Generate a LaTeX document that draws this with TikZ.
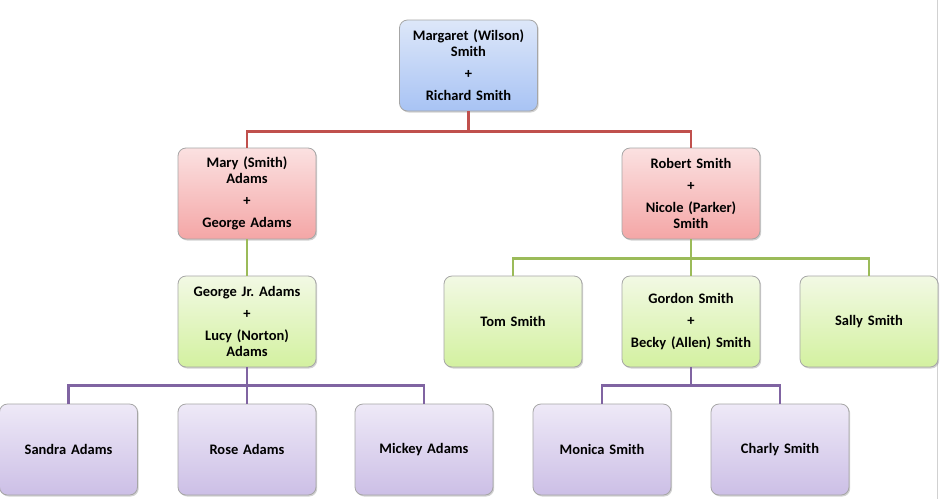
\documentclass[tikz,border=0pt]{standalone}
\usepackage{fontspec}
\setmainfont{Carlito}
\frenchspacing
\usetikzlibrary{shadows}
\definecolor{redline}{HTML}{C0504D}
\definecolor{greenline}{HTML}{9BBB59}
\definecolor{purpleline}{HTML}{8064A2}
\definecolor{blueT}{HTML}{DDE7F9}
\definecolor{blueB}{HTML}{A8C3F4}
\definecolor{redT}{HTML}{FBE1E1}
\definecolor{redB}{HTML}{F4A6A6}
\definecolor{greenT}{HTML}{F2F9E4}
\definecolor{greenB}{HTML}{D3F1A0}
\definecolor{purpT}{HTML}{EEE9F7}
\definecolor{purpB}{HTML}{CCBFE6}
\definecolor{boxborder}{HTML}{A6A6A6}
\tikzset{
  person/.style={draw=boxborder, line width=0.8pt, rounded corners=8pt,
    minimum width=138pt, minimum height=91pt, inner sep=2pt,
    text width=134pt, align=center,
    font=\bfseries\fontsize{14.5}{16}\selectfont,
    drop shadow={shadow xshift=1.2pt, shadow yshift=-1.5pt, opacity=0.35}},
  bluebox/.style={person, top color=blueT, bottom color=blueB},
  redbox/.style={person, top color=redT, bottom color=redB},
  greenbox/.style={person, top color=greenT, bottom color=greenB},
  purpbox/.style={person, top color=purpT, bottom color=purpB},
  conn/.style={line width=2.4pt},
}
\begin{document}
\begin{tikzpicture}[x=1pt,y=-1pt]
\useasboundingbox (0,0) rectangle (940,499);
\fill[white] (0,0) rectangle (940,499);
\draw[black!18, line width=0.8pt] (937.5,0) -- (937.5,499);

\node[bluebox] (top) at (468.5,65.5) {Margaret (Wilson)\\ Smith\\[6pt] +\\[6pt] Richard Smith};
\node[redbox] (mary) at (247,193.5) {Mary (Smith)\\ Adams\\[6pt] +\\[6pt] George Adams};
\node[redbox] (robert) at (691,193.5) {Robert Smith\\[6pt] +\\[6pt] Nicole (Parker)\\ Smith};
\node[greenbox] (george) at (247,321.5) {George Jr. Adams\\[6pt] +\\[6pt] Lucy (Norton)\\ Adams};
\node[greenbox] (tom) at (513,321.5) {Tom Smith};
\node[greenbox] (gordon) at (691,321.5) {Gordon Smith\\[6pt] +\\[6pt] Becky (Allen) Smith};
\node[greenbox] (sally) at (869,321.5) {Sally Smith};
\node[purpbox] (sandra) at (68.5,449.5) {Sandra Adams};
\node[purpbox] (rose) at (247,449.5) {Rose Adams};
\node[purpbox] (mickey) at (424,449.5) {Mickey Adams};
\node[purpbox] (monica) at (602,449.5) {Monica Smith};
\node[purpbox] (charly) at (780,449.5) {Charly Smith};

\draw[conn, redline] (top.south) -- ++(0,20) coordinate (j1);
\draw[conn, redline] (j1) -| (mary.north);
\draw[conn, redline] (j1) -| (robert.north);

\draw[conn, greenline] (mary.south) -- (george.north);
\draw[conn, greenline] (robert.south) -- ++(0,19) coordinate (j2);
\draw[conn, greenline] (j2) -| (tom.north);
\draw[conn, greenline] (j2) -- (gordon.north);
\draw[conn, greenline] (j2) -| (sally.north);

\draw[conn, purpleline] (george.south) -- ++(0,18) coordinate (j3);
\draw[conn, purpleline] (j3) -| (sandra.north);
\draw[conn, purpleline] (j3) -- (rose.north);
\draw[conn, purpleline] (j3) -| (mickey.north);

\draw[conn, purpleline] (gordon.south) -- ++(0,18) coordinate (j4);
\draw[conn, purpleline] (j4) -| (monica.north);
\draw[conn, purpleline] (j4) -| (charly.north);
\end{tikzpicture}
\end{document}
